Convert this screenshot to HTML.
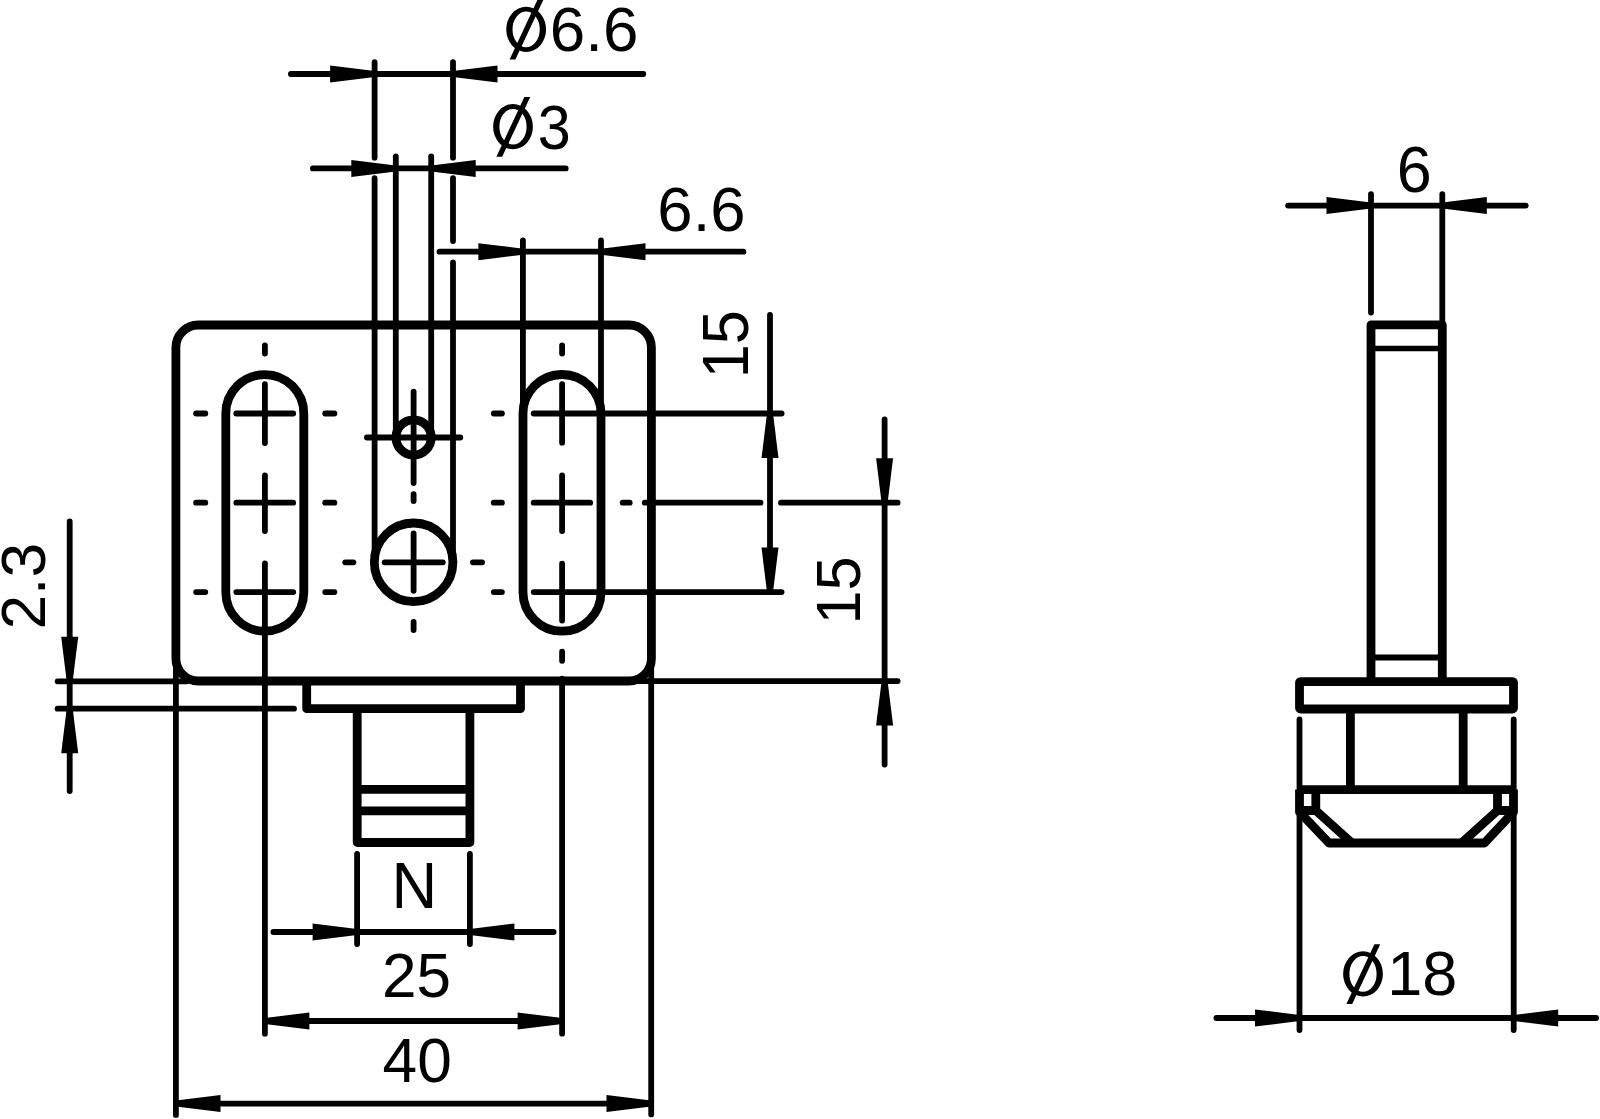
<!DOCTYPE html>
<html><head><meta charset="utf-8"><style>
html,body{margin:0;padding:0;background:#fff;}
svg{display:block;}
text{font-family:"Liberation Sans",sans-serif;fill:#000;stroke:none;}
</style></head><body>
<svg width="1600" height="1119" viewBox="0 0 1600 1119">
<rect width="1600" height="1119" fill="#fff"/>
<g stroke="#000" stroke-linecap="round" fill="none">
<rect x="175.9" y="325" width="475.5" height="356" rx="22.5" ry="22.5" stroke-width="8.8" fill="none"/>
<path d="M225.8 413.5 A39 39 0 0 1 303.8 413.5 L303.8 592.2 A39 39 0 0 1 225.8 592.2 Z" stroke-width="8.8" fill="none" stroke-linecap="butt" />
<path d="M523.0 413.5 A39 39 0 0 1 601.0 413.5 L601.0 592.2 A39 39 0 0 1 523.0 592.2 Z" stroke-width="8.8" fill="none" stroke-linecap="butt" />
<circle cx="413.6" cy="437.4" r="17.6" stroke-width="8.8" fill="none"/>
<circle cx="413.6" cy="562.3" r="39.3" stroke-width="8.8" fill="none"/>
<path d="M306.7 681 L306.7 708.7 L520.5 708.7 L520.5 681" stroke-width="8.8" fill="none" stroke-linecap="butt" stroke-linejoin="round"/>
<path d="M357.2 708.7 L357.2 842.5 L469.9 842.5 L469.9 708.7" stroke-width="8.8" fill="none" stroke-linecap="butt" stroke-linejoin="round"/>
<line x1="361.6" y1="789.4" x2="465.5" y2="789.4" stroke-width="8.8"/>
<line x1="361.6" y1="810.8" x2="465.5" y2="810.8" stroke-width="8.8"/>
<line x1="196.1" y1="413.5" x2="205.3" y2="413.5" stroke-width="5.8"/>
<line x1="236.3" y1="413.5" x2="293.2" y2="413.5" stroke-width="5.8"/>
<line x1="325.2" y1="413.5" x2="334.4" y2="413.5" stroke-width="5.8"/>
<line x1="493.8" y1="413.5" x2="501.9" y2="413.5" stroke-width="5.8"/>
<line x1="196.1" y1="502.7" x2="205.3" y2="502.7" stroke-width="5.8"/>
<line x1="236.3" y1="502.7" x2="293.2" y2="502.7" stroke-width="5.8"/>
<line x1="325.2" y1="502.7" x2="334.4" y2="502.7" stroke-width="5.8"/>
<line x1="493.8" y1="502.7" x2="501.9" y2="502.7" stroke-width="5.8"/>
<line x1="196.1" y1="592.1" x2="205.3" y2="592.1" stroke-width="5.8"/>
<line x1="236.3" y1="592.1" x2="293.2" y2="592.1" stroke-width="5.8"/>
<line x1="325.2" y1="592.1" x2="334.4" y2="592.1" stroke-width="5.8"/>
<line x1="493.8" y1="592.1" x2="501.9" y2="592.1" stroke-width="5.8"/>
<line x1="264.9" y1="345.4" x2="264.9" y2="353.6" stroke-width="5.8"/>
<line x1="264.9" y1="384.2" x2="264.9" y2="443.1" stroke-width="5.8"/>
<line x1="264.9" y1="475.4" x2="264.9" y2="531.1" stroke-width="5.8"/>
<line x1="264.9" y1="563.4" x2="264.9" y2="1033.7" stroke-width="5.8"/>
<line x1="562.1" y1="345.4" x2="562.1" y2="353.6" stroke-width="5.8"/>
<line x1="562.1" y1="384.2" x2="562.1" y2="442.7" stroke-width="5.8"/>
<line x1="562.1" y1="475.4" x2="562.1" y2="531.1" stroke-width="5.8"/>
<line x1="562.1" y1="563.7" x2="562.1" y2="620.6" stroke-width="5.8"/>
<line x1="562.1" y1="651.6" x2="562.1" y2="660.8" stroke-width="5.8"/>
<line x1="562.1" y1="678.6" x2="562.1" y2="1033.7" stroke-width="5.8"/>
<line x1="533.7" y1="413.5" x2="781.6" y2="413.5" stroke-width="5.8"/>
<line x1="533.7" y1="502.7" x2="590.2" y2="502.7" stroke-width="5.8"/>
<line x1="622.7" y1="502.7" x2="629.7" y2="502.7" stroke-width="5.8"/>
<line x1="644.8" y1="502.7" x2="760.5" y2="502.7" stroke-width="5.8"/>
<line x1="781.0" y1="502.7" x2="897.6" y2="502.7" stroke-width="5.8"/>
<line x1="533.7" y1="592.1" x2="781.6" y2="592.1" stroke-width="5.8"/>
<line x1="413.6" y1="391.6" x2="413.6" y2="482.9" stroke-width="5.8"/>
<line x1="413.6" y1="494.1" x2="413.6" y2="501.0" stroke-width="5.8"/>
<line x1="413.6" y1="533.4" x2="413.6" y2="590.8" stroke-width="5.8"/>
<line x1="413.6" y1="621.9" x2="413.6" y2="630.1" stroke-width="5.8"/>
<line x1="345.2" y1="562.3" x2="353.4" y2="562.3" stroke-width="5.8"/>
<line x1="384.7" y1="562.3" x2="442.8" y2="562.3" stroke-width="5.8"/>
<line x1="472.9" y1="562.3" x2="482.1" y2="562.3" stroke-width="5.8"/>
<line x1="366.9" y1="437.5" x2="460.3" y2="437.5" stroke-width="5.8"/>
<line x1="290.9" y1="74.0" x2="643.3" y2="74.0" stroke-width="5.8"/>
<polygon points="374.6,71.0 330.1,65.5 330.1,82.5 374.6,77.0" fill="#000" stroke="none"/>
<polygon points="453.0,71.0 497.5,65.5 497.5,82.5 453.0,77.0" fill="#000" stroke="none"/>
<line x1="374.6" y1="62.2" x2="374.6" y2="157.7" stroke-width="5.8"/>
<line x1="374.6" y1="178.2" x2="374.6" y2="559.4" stroke-width="5.8"/>
<line x1="453.0" y1="62.2" x2="453.0" y2="157.7" stroke-width="5.8"/>
<line x1="453.0" y1="178.2" x2="453.0" y2="241.1" stroke-width="5.8"/>
<line x1="453.0" y1="262.4" x2="453.0" y2="559.4" stroke-width="5.8"/>
<line x1="312.9" y1="168.4" x2="565.7" y2="168.4" stroke-width="5.8"/>
<polygon points="395.8,165.4 351.3,159.9 351.3,176.9 395.8,171.4" fill="#000" stroke="none"/>
<polygon points="431.2,165.4 475.7,159.9 475.7,176.9 431.2,171.4" fill="#000" stroke="none"/>
<line x1="395.8" y1="156.3" x2="395.8" y2="434.5" stroke-width="5.8"/>
<line x1="431.2" y1="156.3" x2="431.2" y2="434.5" stroke-width="5.8"/>
<line x1="439.5" y1="251.7" x2="743.4" y2="251.7" stroke-width="5.8"/>
<polygon points="522.9,248.7 478.4,243.2 478.4,260.2 522.9,254.7" fill="#000" stroke="none"/>
<polygon points="601.0,248.7 645.5,243.2 645.5,260.2 601.0,254.7" fill="#000" stroke="none"/>
<line x1="522.9" y1="240.5" x2="522.9" y2="410.6" stroke-width="5.8"/>
<line x1="601.0" y1="240.5" x2="601.0" y2="410.6" stroke-width="5.8"/>
<line x1="770.0" y1="314.9" x2="770.0" y2="588.4" stroke-width="5.8"/>
<polygon points="767.0,413.5 761.5,458.0 778.5,458.0 773.0,413.5" fill="#000" stroke="none"/>
<polygon points="767.0,592.1 761.5,547.6 778.5,547.6 773.0,592.1" fill="#000" stroke="none"/>
<line x1="884.6" y1="419.4" x2="884.6" y2="764.6" stroke-width="5.8"/>
<polygon points="881.6,502.7 876.1,458.2 893.1,458.2 887.6,502.7" fill="#000" stroke="none"/>
<polygon points="881.6,681.1 876.1,725.6 893.1,725.6 887.6,681.1" fill="#000" stroke="none"/>
<line x1="632.9" y1="681.1" x2="897.6" y2="681.1" stroke-width="5.8"/>
<line x1="69.7" y1="521.4" x2="69.7" y2="791.1" stroke-width="5.8"/>
<polygon points="66.7,681.3 61.2,636.8 78.2,636.8 72.7,681.3" fill="#000" stroke="none"/>
<polygon points="66.7,708.7 61.2,753.2 78.2,753.2 72.7,708.7" fill="#000" stroke="none"/>
<line x1="57.6" y1="681.3" x2="187.1" y2="681.3" stroke-width="5.8"/>
<line x1="57.6" y1="708.7" x2="294.0" y2="708.7" stroke-width="5.8"/>
<line x1="273.4" y1="932.0" x2="553.6" y2="932.0" stroke-width="5.8"/>
<polygon points="357.1,929.0 312.6,923.5 312.6,940.5 357.1,935.0" fill="#000" stroke="none"/>
<polygon points="469.9,929.0 514.4,923.5 514.4,940.5 469.9,935.0" fill="#000" stroke="none"/>
<line x1="357.1" y1="853.9" x2="357.1" y2="944.1" stroke-width="5.8"/>
<line x1="469.9" y1="853.9" x2="469.9" y2="944.1" stroke-width="5.8"/>
<line x1="267.8" y1="1021.0" x2="559.2" y2="1021.0" stroke-width="5.8"/>
<polygon points="264.9,1018.0 309.4,1012.5 309.4,1029.5 264.9,1024.0" fill="#000" stroke="none"/>
<polygon points="562.1,1018.0 517.6,1012.5 517.6,1029.5 562.1,1024.0" fill="#000" stroke="none"/>
<line x1="178.8" y1="1103.6" x2="648.3" y2="1103.6" stroke-width="5.8"/>
<polygon points="176.0,1100.6 220.5,1095.1 220.5,1112.1 176.0,1106.6" fill="#000" stroke="none"/>
<polygon points="651.0,1100.6 606.5,1095.1 606.5,1112.1 651.0,1106.6" fill="#000" stroke="none"/>
<line x1="175.9" y1="662.9" x2="175.9" y2="1114.9" stroke-width="5.8"/>
<line x1="651.2" y1="662.9" x2="651.2" y2="1114.4" stroke-width="5.8"/>
<path d="M1371 681 L1371 324.8 L1442.3 324.8 L1442.3 681" stroke-width="8.8" fill="none" stroke-linecap="butt" stroke-linejoin="round"/>
<line x1="1371" y1="348.5" x2="1442.3" y2="348.5" stroke-width="5.4"/>
<line x1="1371" y1="657.5" x2="1442.3" y2="657.5" stroke-width="6.0"/>
<rect x="1299.5" y="681.6" width="214" height="27.4" rx="1" stroke-width="8.8" fill="none"/>
<line x1="1350.4" y1="713.4" x2="1350.4" y2="785.4" stroke-width="8.8"/>
<line x1="1463.2" y1="713.4" x2="1463.2" y2="785.4" stroke-width="8.8"/>
<path d="M1299.5 789.6 L1513.5 789.6 M1299.5 789.6 L1299.5 812 L1329 843 L1484.5 843 L1513.5 812 L1513.5 789.6" stroke-width="8.8" fill="none" stroke-linecap="butt" stroke-linejoin="round"/>
<path d="M1315.8 789.6 L1315.8 810.5 L1352 843 M1497.5 789.6 L1497.5 810.5 L1461.5 843 M1299.5 810.5 L1315.8 810.5 M1513.5 810.5 L1497.5 810.5" stroke-width="8.8" fill="none" stroke-linecap="butt" stroke-linejoin="round"/>
<line x1="1288.1" y1="205.6" x2="1525.7" y2="205.6" stroke-width="5.8"/>
<polygon points="1371.0,202.6 1326.5,197.1 1326.5,214.1 1371.0,208.6" fill="#000" stroke="none"/>
<polygon points="1442.3,202.6 1486.8,197.1 1486.8,214.1 1442.3,208.6" fill="#000" stroke="none"/>
<line x1="1371.0" y1="194.1" x2="1371.0" y2="312.6" stroke-width="5.8"/>
<line x1="1442.3" y1="194.1" x2="1442.3" y2="321.9" stroke-width="5.8"/>
<line x1="1299.5" y1="719.4" x2="1299.5" y2="1030.1" stroke-width="5.8"/>
<line x1="1513.7" y1="719.4" x2="1513.7" y2="1030.1" stroke-width="5.8"/>
<line x1="1216.4" y1="1018.0" x2="1596.1" y2="1018.0" stroke-width="5.8"/>
<polygon points="1299.5,1015.0 1255.0,1009.5 1255.0,1026.5 1299.5,1021.0" fill="#000" stroke="none"/>
<polygon points="1513.7,1015.0 1558.2,1009.5 1558.2,1026.5 1513.7,1021.0" fill="#000" stroke="none"/>
<path d="M506.25 29.40 A19.9 22.6 0 1 0 546.05 29.40 A19.9 22.6 0 1 0 506.25 29.40 Z M512.55 29.40 A13.6 17.8 0 1 0 539.75 29.40 A13.6 17.8 0 1 0 512.55 29.40 Z" fill="#000" fill-rule="evenodd" stroke="none"/>
<polygon points="509.6,59.4 515.4,59.4 543.4,-0.3 537.5,-0.3" fill="#000" stroke="none"/>
<text x="0" y="0" font-size="64" transform="translate(594.35 29.75) scale(0.9954 0.9821) translate(-44.70 22.02)">6.6</text>
<path d="M493.10 126.70 A19.9 22.6 0 1 0 532.90 126.70 A19.9 22.6 0 1 0 493.10 126.70 Z M499.40 126.70 A13.6 17.8 0 1 0 526.60 126.70 A13.6 17.8 0 1 0 499.40 126.70 Z" fill="#000" fill-rule="evenodd" stroke="none"/>
<polygon points="496.4,156.7 502.2,156.7 530.2,97.0 524.4,97.0" fill="#000" stroke="none"/>
<text x="0" y="0" font-size="64" transform="translate(554.05 126.70) scale(0.9263 0.9975) translate(-17.60 22.02)">3</text>
<text x="0" y="0" font-size="64" transform="translate(701.70 209.50) scale(0.9918 0.9931) translate(-44.70 22.02)">6.6</text>
<text x="0" y="0" font-size="64" transform="translate(726.40 343.25) rotate(-90) scale(0.9542 1.0163) translate(-36.67 21.70)">15</text>
<text x="0" y="0" font-size="64" transform="translate(838.20 589.45) rotate(-90) scale(0.9542 0.9894) translate(-36.67 21.70)">15</text>
<text x="0" y="0" font-size="64" transform="translate(23.25 586.05) rotate(-90) scale(0.9729 0.9909) translate(-44.67 22.02)">2.3</text>
<text x="0" y="0" font-size="64" transform="translate(414.50 886.00) scale(0.9895 0.9993) translate(-23.14 22.02)">N</text>
<text x="0" y="0" font-size="64" transform="translate(416.65 976.00) scale(0.9697 0.9710) translate(-35.84 22.02)">25</text>
<text x="0" y="0" font-size="64" transform="translate(416.70 1060.80) scale(0.9732 0.9710) translate(-35.07 22.02)">40</text>
<text x="0" y="0" font-size="64" transform="translate(1414.50 169.85) scale(0.9829 0.9997) translate(-18.02 22.02)">6</text>
<path d="M1343.10 973.90 A19.9 22.6 0 1 0 1382.90 973.90 A19.9 22.6 0 1 0 1343.10 973.90 Z M1349.40 973.90 A13.6 17.8 0 1 0 1376.60 973.90 A13.6 17.8 0 1 0 1349.40 973.90 Z" fill="#000" fill-rule="evenodd" stroke="none"/>
<polygon points="1346.4,1003.9 1352.2,1003.9 1380.2,944.2 1374.4,944.2" fill="#000" stroke="none"/>
<text x="0" y="0" font-size="64" transform="translate(1423.40 974.00) scale(0.9850 0.9755) translate(-36.64 22.02)">18</text>
</g>
</svg>
</body></html>
